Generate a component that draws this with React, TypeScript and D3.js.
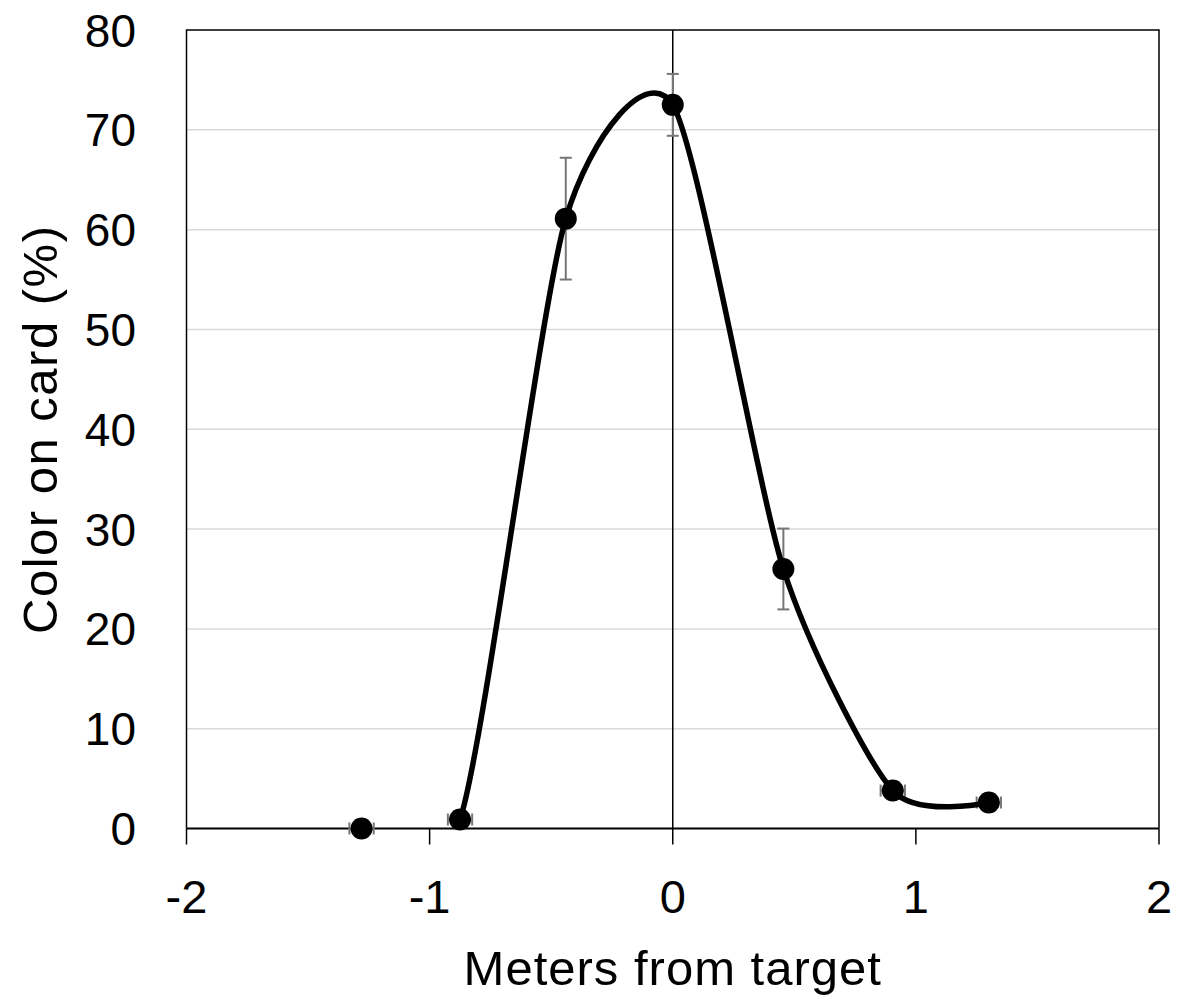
import React, { useEffect, useRef } from 'react';
import * as d3 from 'd3';

const distances = [-1.28, -0.875, -0.44, 0, 0.455, 0.905, 1.3];
const colorPct = [0, 0.9, 61.1, 72.5, 26.0, 3.8, 2.6];
const colorErr = [0, 0, 6.1, 3.1, 4.05, 0, 0];
const distErr = [0.05, 0.05, 0, 0, 0, 0.05, 0.05];

const xTicks = [-2, -1, 0, 1, 2];
const yTicks = [0, 10, 20, 30, 40, 50, 60, 70, 80];

const WIDTH = 1193;
const HEIGHT = 998;
const FONT = '"Liberation Sans", Arial, sans-serif';

const App: React.FC = () => {
  const svgRef = useRef<SVGSVGElement>(null);

  useEffect(() => {
    if (!svgRef.current) return;
    const svg = d3.select(svgRef.current);
    svg.selectAll('*').remove();

    const left = 186.5;
    const right = 1159;
    const top = 30;
    const bottom = 828.5;

    const x = d3.scaleLinear().domain([-2, 2]).range([left, right]);
    const y = d3.scaleLinear().domain([0, 80]).range([bottom, top]);

    svg.append('defs').append('clipPath')
      .attr('id', 'plot-clip')
      .append('rect')
      .attr('x', left)
      .attr('y', top)
      .attr('width', right - left)
      .attr('height', bottom - top);

    // Gridlines
    svg.append('g')
      .selectAll('line')
      .data(yTicks.filter(t => t > 0 && t < 80))
      .enter()
      .append('line')
      .attr('x1', left)
      .attr('x2', right)
      .attr('y1', d => y(d))
      .attr('y2', d => y(d))
      .attr('stroke', '#d9d9d9')
      .attr('stroke-width', 1.5);

    // Plot border (left, top, right)
    svg.append('path')
      .attr('d', `M${left},${bottom}V${top}H${right}V${bottom}`)
      .attr('fill', 'none')
      .attr('stroke', '#000')
      .attr('stroke-width', 1.5);

    // Vertical axis at x = 0
    svg.append('line')
      .attr('x1', x(0))
      .attr('x2', x(0))
      .attr('y1', top)
      .attr('y2', bottom)
      .attr('stroke', '#000')
      .attr('stroke-width', 1.5);

    // Horizontal axis with ticks
    svg.append('line')
      .attr('x1', left)
      .attr('x2', right)
      .attr('y1', bottom)
      .attr('y2', bottom)
      .attr('stroke', '#000')
      .attr('stroke-width', 2);

    svg.append('g')
      .selectAll('line')
      .data(xTicks)
      .enter()
      .append('line')
      .attr('x1', d => x(d))
      .attr('x2', d => x(d))
      .attr('y1', bottom)
      .attr('y2', bottom + 16)
      .attr('stroke', '#000')
      .attr('stroke-width', 1.5);

    // Tick labels
    svg.append('g')
      .selectAll('text')
      .data(xTicks)
      .enter()
      .append('text')
      .attr('x', d => x(d))
      .attr('y', 913)
      .attr('text-anchor', 'middle')
      .attr('font-family', FONT)
      .attr('font-size', 47)
      .text(d => d);

    svg.append('g')
      .selectAll('text')
      .data(yTicks)
      .enter()
      .append('text')
      .attr('x', 136)
      .attr('y', d => y(d) + 16.5)
      .attr('text-anchor', 'end')
      .attr('font-family', FONT)
      .attr('font-size', 46)
      .text(d => d);

    // Axis titles
    svg.append('text')
      .attr('x', x(0))
      .attr('y', 985)
      .attr('text-anchor', 'middle')
      .attr('font-family', FONT)
      .attr('font-size', 49)
      .attr('letter-spacing', 1)
      .text('Meters from target');

    svg.append('text')
      .attr('transform', `translate(57, ${(top + bottom) / 2}) rotate(-90)`)
      .attr('text-anchor', 'middle')
      .attr('font-family', FONT)
      .attr('font-size', 49)
      .attr('letter-spacing', 1.5)
      .text('Color on card (%)');

    const points = distances.map((d, i) => ({
      x: d, y: colorPct[i], ey: colorErr[i], ex: distErr[i],
    }));

    // Error bars
    const errG = svg.append('g')
      .attr('stroke', '#767676')
      .attr('stroke-width', 2);

    points.filter(p => p.ey > 0).forEach(p => {
      const cx = x(p.x);
      errG.append('line')
        .attr('x1', cx).attr('x2', cx)
        .attr('y1', y(p.y + p.ey)).attr('y2', y(p.y - p.ey));
      [p.y + p.ey, p.y - p.ey].forEach(v => {
        errG.append('line')
          .attr('x1', cx - 6).attr('x2', cx + 6)
          .attr('y1', y(v)).attr('y2', y(v));
      });
    });

    points.filter(p => p.ex > 0).forEach(p => {
      const cy = y(p.y);
      errG.append('line')
        .attr('x1', x(p.x - p.ex)).attr('x2', x(p.x + p.ex))
        .attr('y1', cy).attr('y2', cy);
      [p.x - p.ex, p.x + p.ex].forEach(v => {
        errG.append('line')
          .attr('x1', x(v)).attr('x2', x(v))
          .attr('y1', cy - 6).attr('y2', cy + 6);
      });
    });

    // Smoothed line
    const line = d3.line<{ x: number; y: number }>()
      .x(d => x(d.x))
      .y(d => y(d.y))
      .curve(d3.curveCardinal.tension(0.3));

    svg.append('path')
      .datum(points)
      .attr('clip-path', 'url(#plot-clip)')
      .attr('d', line)
      .attr('fill', 'none')
      .attr('stroke', '#000')
      .attr('stroke-width', 5.5)
      .attr('stroke-linejoin', 'round');

    // Markers
    svg.append('g')
      .selectAll('circle')
      .data(points)
      .enter()
      .append('circle')
      .attr('cx', d => x(d.x))
      .attr('cy', d => y(d.y))
      .attr('r', 11)
      .attr('fill', '#000');
  }, []);

  return (
    <svg
      ref={svgRef}
      width={WIDTH}
      height={HEIGHT}
      style={{ position: 'absolute', left: 0, top: 0, background: '#fff' }}
    />
  );
};

export default App;
